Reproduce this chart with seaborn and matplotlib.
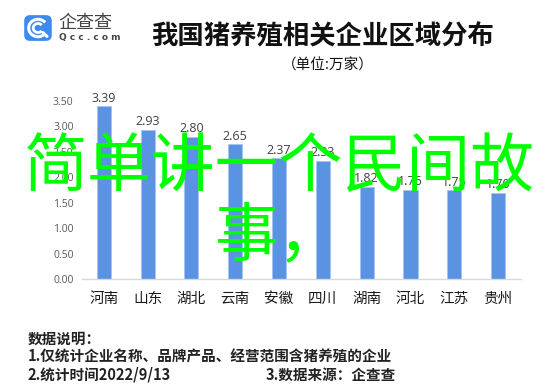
import numpy as np
import pandas as pd
import seaborn as sns
import matplotlib.pyplot as plt
from matplotlib.patches import FancyBboxPatch, Arc

# dados (unidade: 万家)
provincias = ['河南', '山东', '湖北', '云南', '安徽', '四川', '湖南', '河北', '江苏', '贵州']
empresas = [3.39, 2.93, 2.80, 2.65, 2.37, 2.33, 1.82, 1.76, 1.75, 1.70]
y_ticks = [0.0, 0.5, 1.0, 1.5, 2.0, 2.5, 3.0, 3.5]

titulo = '我国猪养殖相关企业区域分布'
subtitulo = '（单位:万家）'
notas = ['数据说明：', '1.仅统计企业名称、品牌产品、经营范围含猪养殖的企业', '2.统计时间2022/9/13', '3.数据来源：企查查']
sobreposto = '简单讲一个民间故\n事，'

df = pd.DataFrame({'uf': provincias, 'valor': empresas})

sns.set_theme(style="white")
plt.rcParams['font.family'] = ['Noto Sans CJK SC', 'DejaVu Sans']

fig = plt.figure(figsize=(5.53, 3.89), dpi=100)
ax = fig.add_axes([0.148, 0.2815, 0.794, 0.4595])

sns.barplot(data=df, x='uf', y='valor', color='#5B93E3', width=0.32,
            edgecolor='#A8C3EE', linewidth=0.6, saturation=1, ax=ax)

ax.bar_label(ax.containers[0], labels=[f'{v:.2f}' for v in empresas],
             padding=1, fontsize=9, color='#404040', family=['Open Sans', 'DejaVu Sans'])

ax.set_xlim(-0.5, 9.52)
ax.set_ylim(0, 3.5)
ax.set_yticks(y_ticks)
ax.set_yticklabels([f'{t:.2f}' for t in y_ticks], fontsize=7.5, color='#595959',
                   family=['Open Sans', 'DejaVu Sans'])
ax.tick_params(axis='y', length=0, pad=6)
ax.tick_params(axis='x', length=0, pad=9, labelsize=10.5, labelcolor='#1A1A1A')
for lbl in ax.get_xticklabels():
    lbl.set_fontweight('medium')
ax.set_xlabel('')
ax.set_ylabel('')
for lado in ['top', 'right', 'left']:
    ax.spines[lado].set_visible(False)
ax.spines['bottom'].set_color('#D9D9D9')
ax.spines['bottom'].set_linewidth(1)

# titulos
fig.text(0.584, 0.905, titulo, fontsize=19, fontweight='bold', ha='center', va='center', color='#111111')
fig.text(0.593, 0.831, subtitulo, fontsize=10.5, ha='center', va='center', color='#111111')

# logo
ax_logo = fig.add_axes([0.0416, 0.892, 0.0542, 0.072])
ax_logo.set_xlim(0, 1)
ax_logo.set_ylim(0, 1)
ax_logo.axis('off')
ax_logo.add_patch(FancyBboxPatch((0.04, 0.04), 0.92, 0.92, boxstyle='round,pad=0,rounding_size=0.2',
                                 facecolor='#3D8BF2', edgecolor='none'))
ax_logo.add_patch(Arc((0.5, 0.5), 0.62, 0.62, theta1=40, theta2=320, color='white', lw=2.2))
ax_logo.add_patch(Arc((0.5, 0.5), 0.32, 0.32, theta1=40, theta2=320, color='white', lw=2.0))
ax_logo.plot([0.66, 0.8], [0.34, 0.2], color='white', lw=2.2, solid_capstyle='round')
fig.text(0.105, 0.942, '企查查', fontsize=13, ha='left', va='center', color='#444444')
fig.text(0.106, 0.904, 'Q c c . c o m', fontsize=6.5, ha='left', va='center', color='#444444',
         family=['DejaVu Sans'], fontweight='bold')

# notas
fig.text(0.0506, 0.129, notas[0], fontsize=10.5, fontweight='bold', va='center', color='#222222')
fig.text(0.0506, 0.0835, notas[1], fontsize=10.5, fontweight='bold', va='center', color='#222222')
fig.text(0.0506, 0.036, notas[2], fontsize=10.5, fontweight='bold', va='center', color='#222222')
fig.text(0.481, 0.036, notas[3], fontsize=10.5, fontweight='bold', va='center', color='#222222')

# texto verde sobreposto
fig.text(0.5045, 0.48, sobreposto, fontsize=46, color='#00FF00', ha='center', va='center',
         multialignment='center', linespacing=1.05)

fig.savefig('out.png', dpi=100)
